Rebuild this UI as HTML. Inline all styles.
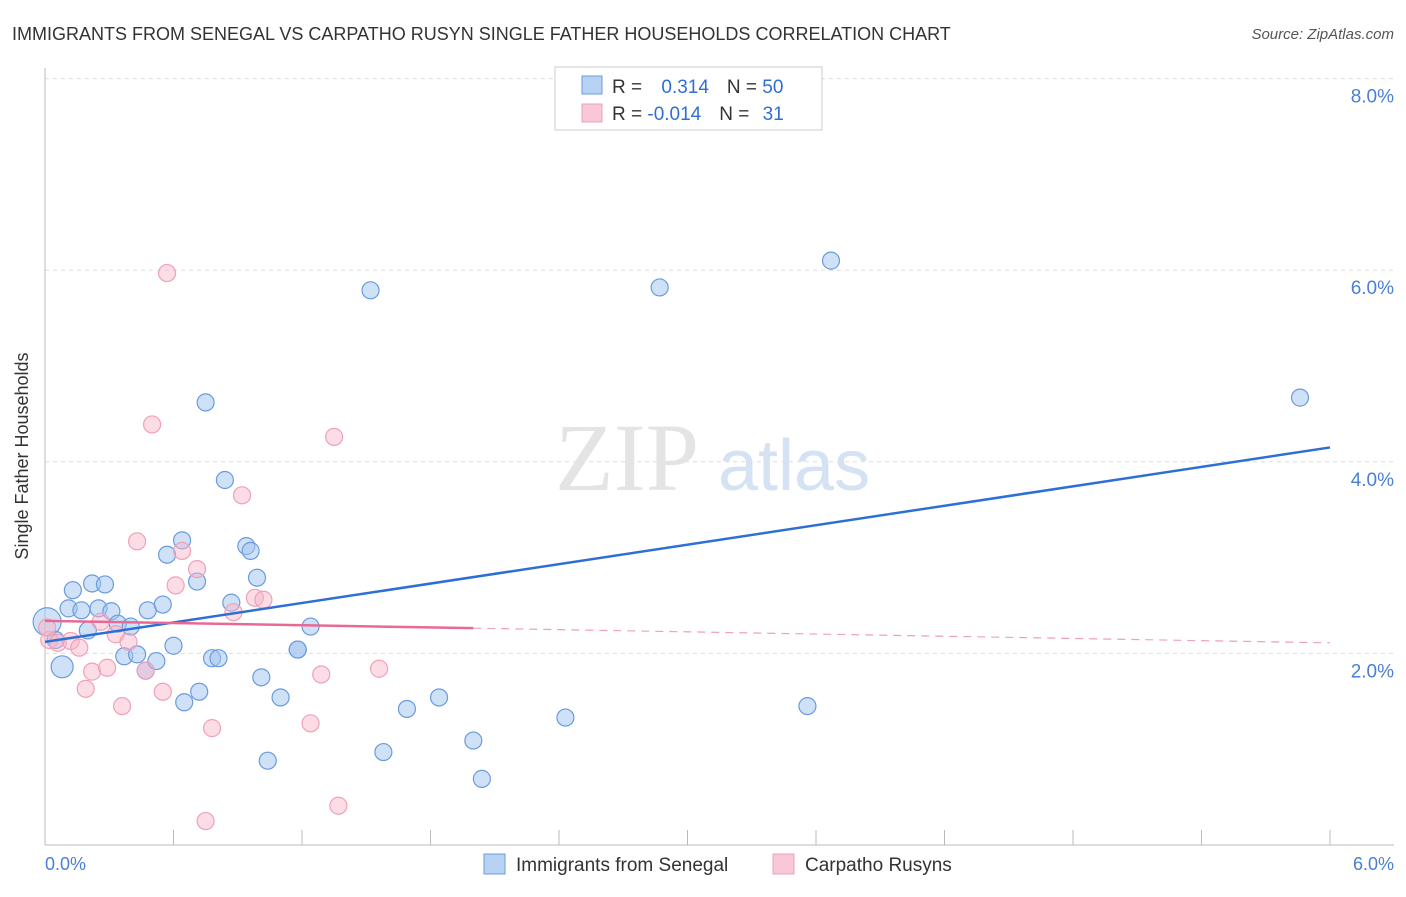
<!DOCTYPE html>
<html><head><meta charset="utf-8"><style>
body{margin:0;background:#fff;font-family:"Liberation Sans",sans-serif}
</style></head><body>
<svg id="c" width="1406" height="892" xmlns="http://www.w3.org/2000/svg" font-family="Liberation Sans, sans-serif">
<text x="12" y="40" font-size="18" fill="#333">IMMIGRANTS FROM SENEGAL VS CARPATHO RUSYN SINGLE FATHER HOUSEHOLDS CORRELATION CHART</text>
<text x="1394" y="39" font-size="15" fill="#555" text-anchor="end" font-style="italic">Source: ZipAtlas.com</text>
<g id="grid"></g>
<text x="555" y="490" font-size="96" fill="#e4e4e4" font-family="Liberation Serif, serif">ZIP</text>
<text x="718" y="490" font-size="72" fill="#d4e2f4">atlas</text>
<g id="pts"></g>
<g id="lines"></g>
<text x="28" y="456" font-size="18" fill="#333" text-anchor="middle" transform="rotate(-90 28 456)">Single Father Households</text>
<text x="45" y="870" font-size="18" fill="#4a7fd4">0.0%</text>
<text x="1394" y="870" font-size="18" fill="#4a7fd4" text-anchor="end">6.0%</text>
<g>
<rect x="555" y="67" width="267" height="63" fill="#fff" stroke="#ccc"/>
<rect x="582" y="76" width="20" height="18" fill="#b8d2f4" stroke="#6a9be0"/>
<rect x="582" y="104" width="20" height="18" fill="#f9c8d6" stroke="#f0a0b8"/>
<text x="612" y="93" font-size="19" fill="#333">R = <tspan fill="#2e6fd6" dx="14">0.314</tspan><tspan dx="18" fill="#333">N = </tspan><tspan fill="#2e6fd6">50</tspan></text>
<text x="612" y="120" font-size="19" fill="#333">R = <tspan fill="#2e6fd6">-0.014</tspan><tspan dx="18" fill="#333">N = </tspan><tspan fill="#2e6fd6" dx="8">31</tspan></text>
</g>
<g>
<rect x="484" y="854" width="21" height="20" fill="#b8d2f4" stroke="#6a9be0"/>
<text x="516" y="871" font-size="19" fill="#333">Immigrants from Senegal</text>
<rect x="773" y="854" width="21" height="20" fill="#f9c8d6" stroke="#f0a0b8"/>
<text x="805" y="871" font-size="19" fill="#333">Carpatho Rusyns</text>
</g>
</svg>
<script>
const blueX=[0.01,0.05,0.08,0.11,0.13,0.17,0.22,0.28,0.25,0.31,0.34,0.20,0.40,0.37,0.43,0.48,0.55,0.47,0.52,0.57,0.64,0.60,0.71,0.75,0.84,0.94,0.96,0.99,0.87,0.78,0.81,0.65,0.72,1.01,1.10,1.04,1.18,1.18,1.24,1.52,1.58,1.69,1.84,2.00,2.04,2.43,2.87,3.56,3.67,5.86];
const blueY=[2.33,2.14,1.86,2.47,2.66,2.45,2.73,2.72,2.47,2.44,2.31,2.24,2.28,1.97,1.99,2.45,2.51,1.82,1.92,3.03,3.18,2.08,2.75,4.62,3.81,3.12,3.07,2.79,2.53,1.95,1.95,1.49,1.60,1.75,1.54,0.88,2.04,2.04,2.28,5.79,0.97,1.42,1.54,1.09,0.69,1.33,5.82,1.45,6.10,4.67];
const pinkX=[0.02,0.06,0.12,0.16,0.19,0.22,0.26,0.29,0.33,0.36,0.39,0.43,0.47,0.50,0.55,0.57,0.61,0.64,0.71,0.78,0.75,0.88,0.92,0.98,1.02,1.24,1.29,1.35,1.37,1.56,0.01];
const pinkY=[2.14,2.11,2.13,2.06,1.63,1.81,2.33,1.85,2.20,1.45,2.12,3.17,1.82,4.39,1.60,5.97,2.71,3.07,2.88,1.22,0.25,2.43,3.65,2.58,2.56,1.27,1.78,4.26,0.41,1.84,2.27];
const yTicks=[2,4,6,8];
const yTickLabels=["2.0%","4.0%","6.0%","8.0%"];
const blueTrend=[2.12,4.15];
const pinkTrend=[2.34,2.11];
const pinkSolidEnd=2.0;
const NS="http://www.w3.org/2000/svg";
const X=v=>45+v*1285/6, Y=v=>845-v*95.8;
function mk(t,a,p){const e=document.createElementNS(NS,t);for(const k in a)e.setAttribute(k,a[k]);p.appendChild(e);return e;}
const g=document.getElementById('grid');
const ax=mk('line',{x1:45,y1:68,x2:45,y2:845,stroke:'#bbb'},g);


const bx=mk('line',{x1:45,y1:845,x2:1394,y2:845,stroke:'#bbb'},g);


for(let i=0;i<=10;i++){const t=mk('line',{x1:X(i*0.6),y1:830,x2:X(i*0.6),y2:845,stroke:'#bbb'},g);

}
yTicks.forEach((v,i)=>{const l=mk('line',{x1:45,y1:Y(v),x2:1394,y2:Y(v),stroke:'#ddd','stroke-dasharray':'4,4'},g);


const t=mk('text',{x:1394,y:Y(v)+24,'font-size':19,fill:'#4a7fd4','text-anchor':'end'},g);t.textContent=yTickLabels[i];

});
const p=document.getElementById('pts');
const big=[0,2];
blueX.forEach((v,i)=>{const c=mk('circle',{cx:X(v),cy:Y(blueY[i]),r:big.includes(i)?(i==0?14:11):8.5,fill:'rgba(160,196,240,0.5)',stroke:'#6a9be0','stroke-width':1.2},p);

});
pinkX.forEach((v,i)=>{const c=mk('circle',{cx:X(v),cy:Y(pinkY[i]),r:8.5,fill:'rgba(248,180,200,0.45)',stroke:'#f0a0b8','stroke-width':1.2},p);

});
const L=document.getElementById('lines');
const bl=mk('line',{x1:X(0),y1:Y(blueTrend[0]),x2:X(6),y2:Y(blueTrend[1]),stroke:'#2e6fd6','stroke-width':2.5},L);


const pv=x=>pinkTrend[0]+(pinkTrend[1]-pinkTrend[0])*x/6;
const ps=mk('line',{x1:X(0),y1:Y(pv(0)),x2:X(pinkSolidEnd),y2:Y(pv(pinkSolidEnd)),stroke:'#e86a94','stroke-width':2.5},L);


const pd=mk('line',{x1:X(pinkSolidEnd),y1:Y(pv(pinkSolidEnd)),x2:X(6),y2:Y(pv(6)),stroke:'#f0a0b8','stroke-width':1.2,'stroke-dasharray':'8,6'},L);


</script>
</body></html>
